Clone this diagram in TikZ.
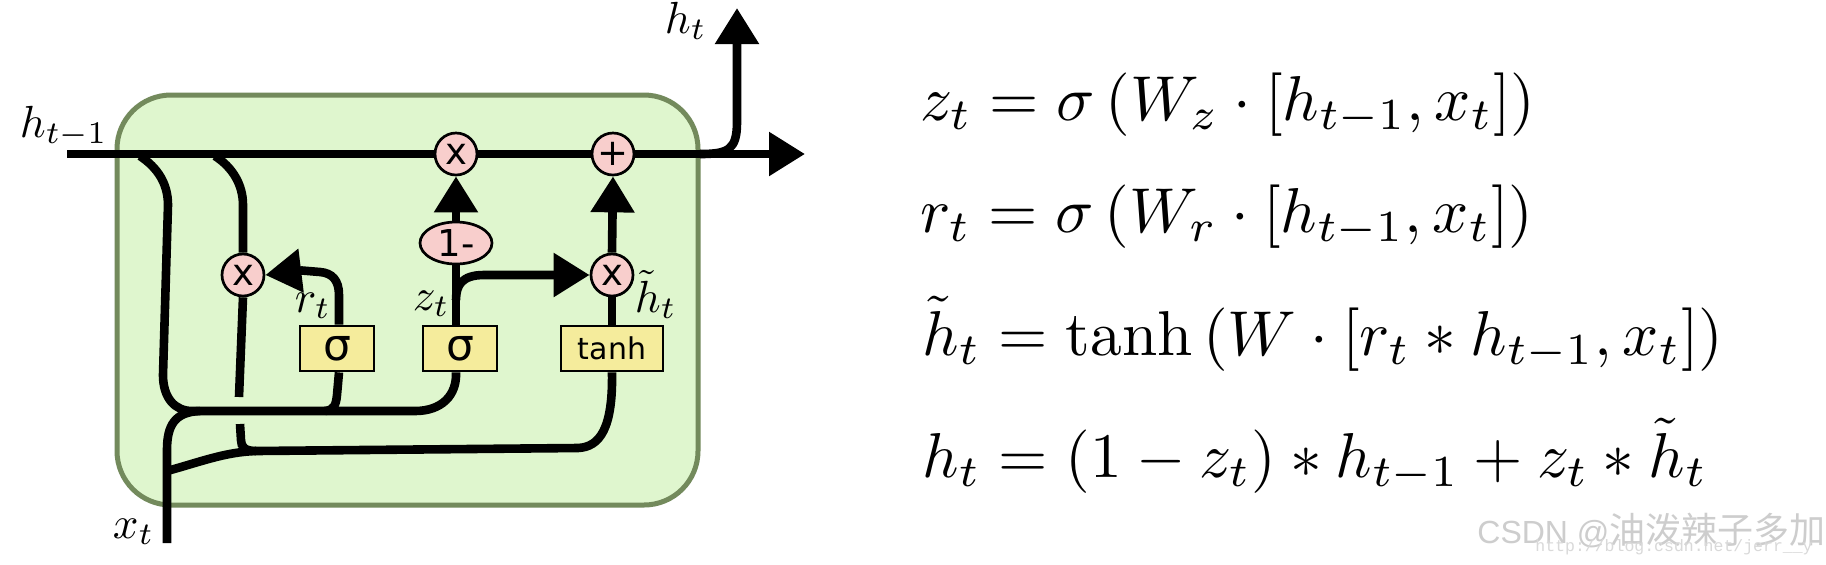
\documentclass[tikz,border=0pt]{standalone}
\usepackage{amsmath}
\usepackage{fontspec}
\newfontfamily\djv{DejaVu Sans}
\newfontfamily\libs{Liberation Sans}
\newfontfamily\cjk{Noto Sans CJK SC}
\newfontfamily\libm{Liberation Mono}
\usetikzlibrary{shapes.geometric,arrows.meta}
\definecolor{cellfill}{HTML}{DFF6CE}
\definecolor{celledge}{HTML}{738A5C}
\definecolor{opfill}{HTML}{F8CECC}
\definecolor{boxfill}{HTML}{F5EC9C}
\definecolor{wmark}{HTML}{CDCDCD}
\definecolor{wmarkb}{HTML}{D9D9D9}
\pgfdeclarelayer{under}
\pgfsetlayers{under,main}
\tikzset{
  cell/.style={draw=celledge,fill=cellfill,line width=2.5pt,rounded corners=27pt},
  wire/.style={draw=black,line width=4.3pt,line cap=butt},
  arrowwire/.style={wire,-{Triangle[length=18pt,width=21pt]}},
  opcirc/.style={circle,draw=black,fill=opfill,line width=1.35pt,minimum size=21pt,inner sep=0pt,font=\djv\fontsize{18.5}{18.5}\selectfont},
  opell/.style={ellipse,draw=black,fill=opfill,line width=1.35pt,minimum width=36pt,minimum height=21pt,inner sep=0pt,font=\djv\fontsize{18.5}{18.5}\selectfont},
  gate/.style={rectangle,draw=black,fill=boxfill,line width=1.4pt,inner sep=0pt,minimum height=22.5pt,font=\djv\fontsize{22}{22}\selectfont},
  lab/.style={inner sep=0pt,anchor=base west,scale=2.25},
  eqn/.style={inner sep=0pt,anchor=base west,scale=3.17},
}
\begin{document}
\begin{tikzpicture}[x=0.5pt,y=-0.5pt]
\useasboundingbox (0,0) rectangle (1826,564);
% operation nodes
\node[opcirc] (mulA) at (456,154) {x};
\node[opcirc] (add) at (613,154) {+};
\node[opcirc] (mulR) at (243,275) {x};
\node[opcirc] (mulT) at (612,275) {x};
\node[opell] (inv) at (456,243) {1-};
\node[gate,minimum width=37pt] (sigR) at (337,348.5) {σ};
\node[gate,minimum width=37pt] (sigZ) at (460,348.5) {σ};
\node[gate,minimum width=51pt,font=\djv\fontsize{15}{15}\selectfont] (tanh) at (612,348.5) {tanh};
% free ends
\coordinate (lin) at (67,154);
\coordinate (tipRight) at (805,154);
\coordinate (tipUp) at (737,8);
\coordinate (xin) at (167,543);
\begin{pgfonlayer}{under}
\fill[white] (0,0) rectangle (1826,564);
\draw[cell] (117,95) rectangle (698,505);
% main state line and output
\draw[arrowwire] (lin) -- (tipRight);
\draw[arrowwire] (700,154) .. controls (728,154) and (737,150) .. (737,122) -- (tipUp);
% branches from the state line
\draw[wire] (140,156) .. controls (158,168) and (168,184) .. (168,205) -- (163,375)
  .. controls (163,398) and (175,411) .. (192,411) -- (415,411)
  .. controls (442,411) and (457,395) .. (sigZ.south -| mulA);
\draw[wire] (215,156) .. controls (232,167) and (243,184) .. (243,205) -- (mulR.north);
\draw[wire] (mulR.south) -- (239,397);
\draw[wire] (240,424) -- (241,440) .. controls (241,447) and (245,451) .. (256,451);
% input and its branches
\draw[wire] (xin) -- (167,450) .. controls (167,425) and (175,412) .. (200,411);
\draw[wire] (167,471) .. controls (200,462) and (225,452) .. (256,451) -- (578,448)
  .. controls (600,447) and (613,428) .. (tanh.south);
% gate outputs
\draw[wire] ([xshift=1pt]sigR.south) -- (337,395) .. controls (336,405) and (334,410) .. (325,411);
\draw[wire] (sigZ.north -| mulA) -- (inv.south);
\draw[wire] (mulT.south) -- (tanh.north);
\end{pgfonlayer}
% arrowheads on the tops of connectors
\draw[arrowwire] (mulT.north) -- (add.south);
\draw[arrowwire] (inv.north) -- (mulA.south);
\draw[arrowwire] (456,300) .. controls (456,285) and (462,275) .. (484,275) -- (mulT.west);
\draw[arrowwire] ([xshift=1pt]sigR.north) -- (339,295) .. controls (339,280) and (332,273) .. (320,272) -- (302,270.5) -- (mulR.east);
% variable labels
\node[lab] (lHprev) at (19,137) {$h_{t-1}$};
\node[lab] (lHt) at (664,33) {$h_t$};
\node[lab] (lRt) at (294,312) {$r_t$};
\node[lab] (lZt) at (412,310) {$z_t$};
\node[lab] (lHtil) at (634,312) {$\tilde{h}_t$};
\node[lab] (lXt) at (112,538) {$x_t$};
% equations
\node[eqn] (eqA) at (919,120) {$z_t=\sigma\left(W_z\cdot[h_{t-1},x_t]\right)$};
\node[eqn] (eqB) at (919,232) {$r_t=\sigma\left(W_r\cdot[h_{t-1},x_t]\right)$};
\node[eqn] (eqC) at (921,355) {$\tilde{h}_t=\tanh\left(W\cdot[r_t*h_{t-1},x_t]\right)$};
\node[eqn] (eqD) at (921,477) {$h_t=(1-z_t)*h_{t-1}+z_t*\tilde{h}_t$};
% watermark
\node[inner sep=0pt,anchor=base west,text=wmark] (wmA) at (1477,543) {\libs\fontsize{16}{16}\selectfont CSDN @\cjk\fontsize{18}{18}\selectfont 油泼辣子多加};
\node[inner sep=0pt,anchor=base west,text=wmarkb] (wmB) at (1535,551) {\libm\fontsize{8.25}{9}\selectfont http://blog.csdn.net/jerr\_\_y};
\end{tikzpicture}
\end{document}
